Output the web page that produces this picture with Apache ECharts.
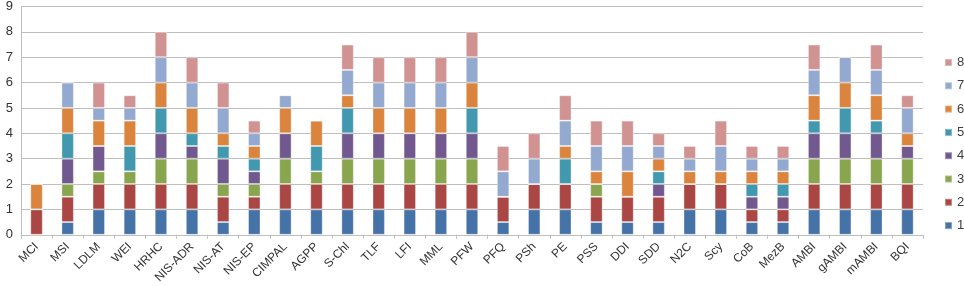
<!DOCTYPE html>
<html>
<head>
<meta charset="utf-8">
<script src="https://cdn.jsdelivr.net/npm/echarts@6/dist/echarts.min.js"></script>
<style>
	html, body { margin: 0; padding: 0; background: #fff; }
	#chart { width: 964px; height: 286px; }
</style>
</head>
<body>
<div id="chart"></div>
<script>
// 指标名称
var categories = ['MCI', 'MSI', 'LDLM', 'WEI', 'HRHC', 'NIS-ADR', 'NIS-AT', 'NIS-EP', 'CIMPAL', 'AGPP',
	'S-Chl', 'TLF', 'LFI', 'MML', 'PFW', 'PFQ', 'PSh', 'PE', 'PSS', 'DDI',
	'SDD', 'N2C', 'Scy', 'CoB', 'MezB', 'AMBI', 'gAMBI', 'mAMBI', 'BQI'];
// 各系列值 (1..8)
var s1 = [0, 0.5, 1, 1, 1, 1, 0.5, 1, 1, 1, 1, 1, 1, 1, 1, 0.5, 1, 1, 0.5, 0.5, 0.5, 1, 1, 0.5, 0.5, 1, 1, 1, 1];
var s2 = [1, 1, 1, 1, 1, 1, 1, 0.5, 1, 1, 1, 1, 1, 1, 1, 1, 1, 1, 1, 1, 1, 1, 1, 0.5, 0.5, 1, 1, 1, 1];
var s3 = [0, 0.5, 0.5, 0.5, 1, 1, 0.5, 0.5, 1, 0.5, 1, 1, 1, 1, 1, 0, 0, 0, 0.5, 0, 0, 0, 0, 0, 0, 1, 1, 1, 1];
var s4 = [0, 1, 1, 0, 1, 0.5, 1, 0.5, 1, 0, 1, 1, 1, 1, 1, 0, 0, 0, 0, 0, 0.5, 0, 0, 0.5, 0.5, 1, 1, 1, 0.5];
var s5 = [0, 1, 0, 1, 1, 0.5, 0.5, 0.5, 0, 1, 1, 0, 0, 0, 1, 0, 0, 1, 0, 0, 0.5, 0, 0, 0.5, 0.5, 0.5, 1, 0.5, 0];
var s6 = [1, 1, 1, 1, 1, 1, 0.5, 0.5, 1, 1, 0.5, 1, 1, 1, 1, 0, 0, 0.5, 0.5, 1, 0.5, 0.5, 0.5, 0.5, 0.5, 1, 1, 1, 0.5];
var s7 = [0, 1, 0.5, 0.5, 1, 1, 1, 0.5, 0.5, 0, 1, 1, 1, 1, 1, 1, 1, 1, 1, 1, 0.5, 0.5, 1, 0.5, 0.5, 1, 1, 1, 1];
var s8 = [0, 0, 1, 0.5, 1, 1, 1, 0.5, 0, 0, 1, 1, 1, 1, 1, 1, 1, 1, 1, 1, 0.5, 0.5, 1, 0.5, 0.5, 1, 0, 1, 0.5];
var seriesNames = ['1', '2', '3', '4', '5', '6', '7', '8'];
var yTicks = [0, 1, 2, 3, 4, 5, 6, 7, 8, 9];

var colors = ['#4572A7', '#AA4643', '#89A54E', '#71588F', '#4198AF', '#DB843D', '#93A9CF', '#D19392'];
var allData = [s1, s2, s3, s4, s5, s6, s7, s8];

var chart = echarts.init(document.getElementById('chart'));
var series = [];
for (var i = 0; i < allData.length; i++) {
	series.push({
		name: seriesNames[i],
		type: 'bar',
		stack: 'total',
		barWidth: '40%',
		itemStyle: {
			color: colors[i],
			borderColor: 'rgba(255,255,255,0.35)',
			borderWidth: 1
		},
		data: allData[i]
	});
}

chart.setOption({
	animation: false,
	color: colors,
	grid: {
		left: 21,
		right: 41,
		top: 5.5,
		bottom: 50,
		containLabel: false
	},
	legend: {
		orient: 'vertical',
		left: 944,
		top: 56,
		padding: 0,
		itemWidth: 7,
		itemHeight: 7,
		itemGap: 10.3,
		icon: 'rect',
		data: seriesNames.slice().reverse(),
		textStyle: { color: '#404040', fontSize: 13, fontFamily: 'Liberation Sans' }
	},
	xAxis: {
		type: 'category',
		data: categories,
		axisLine: { lineStyle: { color: '#bfbfbf' } },
		axisTick: { show: true, length: 4, lineStyle: { color: '#bfbfbf' } },
		axisLabel: {
			rotate: 45,
			interval: 0,
			margin: 10,
			color: '#333',
			fontSize: 12,
			fontFamily: 'Liberation Sans'
		}
	},
	yAxis: {
		type: 'value',
		min: yTicks[0],
		max: yTicks[yTicks.length - 1],
		interval: 1,
		axisLine: { show: true, lineStyle: { color: '#bfbfbf' } },
		axisTick: { show: false },
		splitLine: { lineStyle: { color: '#bfbfbf' } },
		axisLabel: {
			color: '#333',
			fontSize: 13,
			margin: 8,
			fontFamily: 'Liberation Sans'
		}
	},
	series: series
});
</script>
</body>
</html>
